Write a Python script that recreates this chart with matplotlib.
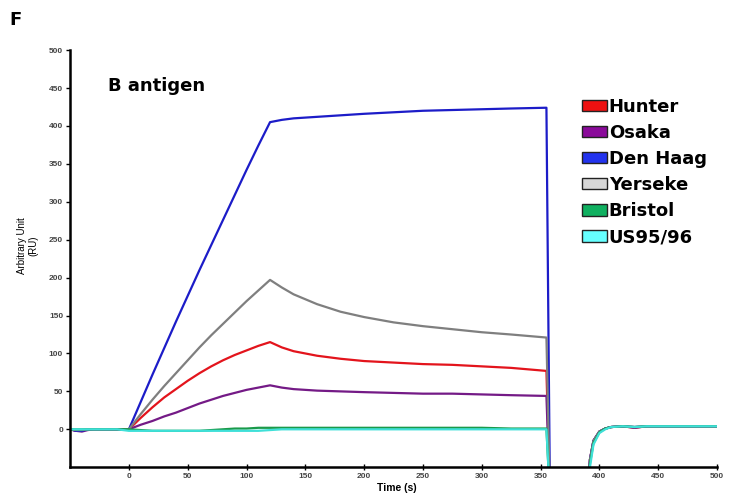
import matplotlib
matplotlib.use("Agg")
import matplotlib.pyplot as plt
import numpy as np
from matplotlib.patches import Patch

plt.rcParams["font.family"] = ["Liberation Sans", "DejaVu Sans"]

# time points (s); NaN splits the injection phase from the regeneration phase
time_s = [-50, -45, -40, -35, -30, -20, -10, 0, 10, 20, 30, 40, 50, 60, 70, 80, 90, 100, 110, 120,
          130, 140, 160, 180, 200, 225, 250, 275, 300, 325, 355, 358,
          np.nan,
          390, 392, 395, 400, 405, 410, 420, 430, 440, 460, 480, 500]

den_haag = [0, -2, -2, 0, 0, 0, 0, 0, 36, 72, 107, 142, 176, 210, 243, 276, 309, 342, 374, 405,
            408, 410, 412, 414, 416, 418, 420, 421, 422, 423, 424, -90,
            np.nan,
            -90, -40, -15, -3, 1, 3, 4, 3, 4, 4, 4, 4]
yerseke = [0, -1, -1, 0, 0, 0, 0, 0, 20, 39, 57, 74, 91, 108, 124, 139, 154, 169, 183, 197,
           187, 178, 165, 155, 148, 141, 136, 132, 128, 125, 121, -90,
           np.nan,
           -90, -40, -15, -3, 1, 3, 4, 3, 4, 4, 4, 4]
hunter = [0, -2, -1, 0, 0, 0, 0, 0, 15, 29, 42, 53, 64, 74, 83, 91, 98, 104, 110, 115,
          108, 103, 97, 93, 90, 88, 86, 85, 83, 81, 77, -90,
          np.nan,
          -90, -40, -15, -3, 1, 3, 4, 2, 4, 4, 4, 4]
osaka = [0, -2, -3, -1, 0, 0, 0, 0, 6, 11, 17, 22, 28, 34, 39, 44, 48, 52, 55, 58,
         55, 53, 51, 50, 49, 48, 47, 47, 46, 45, 44, -90,
         np.nan,
         -90, -40, -15, -3, 1, 3, 4, 2, 4, 4, 4, 4]
bristol = [0, 0, 0, 0, 0, 0, 0, 0, -1, -2, -2, -2, -2, -2, -1, 0, 1, 1, 2, 2,
           2, 2, 2, 2, 2, 2, 2, 2, 2, 1, 1, -90,
           np.nan,
           -90, -45, -18, -4, 1, 3, 4, 3, 4, 4, 4, 4]
us95 = [0, 0, 0, 0, 0, 0, 0, -2, -2, -2, -2, -2, -2, -2, -2, -2, -2, -2, -2, -1,
        0, 0, 0, 0, 0, 0, 0, 0, 0, 0, 0, -90,
        np.nan,
        -90, -50, -20, -5, 0, 3, 4, 3, 4, 4, 4, 4]

names = ["Hunter", "Osaka", "Den Haag", "Yerseke", "Bristol", "US95/96"]
series = [hunter, osaka, den_haag, yerseke, bristol, us95]
line_colors = ["#e3141c", "#741a86", "#1c1cc8", "#7f7f7f", "#1a9a4a", "#3fe0d8"]
patch_colors = ["#ee1111", "#8a0a9a", "#2233ee", "#d8d8d8", "#10b060", "#66ffff"]

fig = plt.figure(figsize=(7.38, 4.96), dpi=100)
ax = fig.add_axes([0.095, 0.058, 0.8765, 0.841])

# draw order: cyan/green at bottom, blue on top
for idx in [5, 4, 3, 0, 1, 2]:
    ax.plot(time_s, series[idx], color=line_colors[idx], lw=1.6, zorder=2 + idx * 0.1)

ax.set_xlim(-50, 500)
ax.set_ylim(-50, 500)
ax.set_xticks(range(0, 501, 50))
ax.set_yticks(range(0, 501, 50))
ax.tick_params(axis="both", labelsize=6, colors="black", labelcolor="#444444", width=1, length=3,
               pad=2)
ax.tick_params(axis="x", direction="inout", length=5)
for lbl in ax.get_xticklabels() + ax.get_yticklabels():
    lbl.set_fontweight("bold")
for side in ("top", "right"):
    ax.spines[side].set_visible(False)
for side in ("left", "bottom"):
    ax.spines[side].set_linewidth(1.8)

ax.text(228, -77, "Time (s)", fontsize=7.5, fontweight="bold", ha="center", va="center",
        clip_on=False)
fig.text(0.037, 0.505, "Arbitrary Unit\n(RU)", rotation=90, fontsize=7, ha="center", va="center",
         multialignment="center")
fig.text(0.013, 0.96, "F", fontsize=13, fontweight="bold", ha="left", va="center",
         family="DejaVu Sans")
ax.text(-18, 453, "B antigen", fontsize=13, fontweight="bold", ha="left", va="center",
        family="DejaVu Sans")

handles = [Patch(facecolor=c, edgecolor="#222222", lw=1) for c in patch_colors]
ax.legend(handles, names, loc="upper left", bbox_to_anchor=(0.791, 0.886), frameon=False,
          prop={"size": 13, "weight": "bold", "family": "DejaVu Sans"}, handlelength=1.4,
          handleheight=0.6, handletextpad=0.1, labelspacing=0.45, borderaxespad=0,
          borderpad=0)

fig.savefig("out.png", dpi=100)
